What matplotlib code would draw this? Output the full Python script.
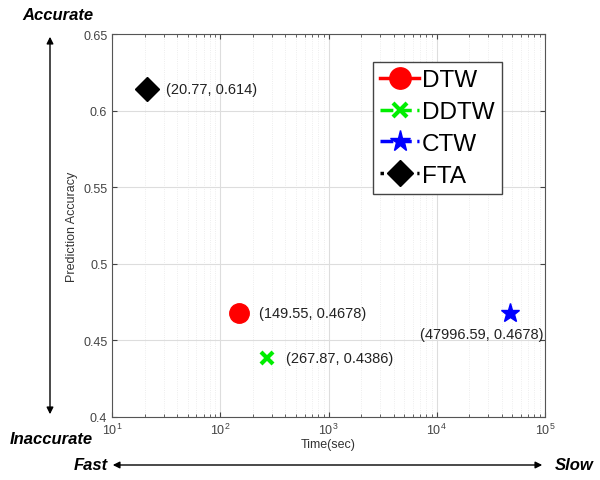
import numpy as np
import matplotlib.pyplot as plt
from matplotlib.patches import FancyArrowPatch

plt.rcParams['font.family'] = ['Liberation Sans', 'DejaVu Sans']

# Data
methods = ['DTW', 'DDTW', 'CTW', 'FTA']
times = [149.55, 267.87, 47996.59, 20.77]
accuracy = [0.4678, 0.4386, 0.4678, 0.614]
colors = ['#ff0000', '#00ee00', '#0000ff', '#000000']
markers = ['o', 'x', '*', 'D']
sizes = [14, 9, 14, 12]
linestyles = ['-', '--', '--', ':']
y_ticks = [0.4, 0.45, 0.5, 0.55, 0.6, 0.65]

fig = plt.figure(figsize=(6, 4.81), dpi=100)
ax = fig.add_axes([0.187, 0.131, 0.721, 0.796])

handles = []
for m, t, a, c, mk, s, ls in zip(methods, times, accuracy, colors, markers, sizes, linestyles):
    h, = ax.plot([t], [a], marker=mk, color=c, markersize=s, linestyle=ls,
                 linewidth=2.5, markeredgewidth=3 if mk == 'x' else 1, label=m)
    handles.append(h)

# point labels
for m, t, a in zip(methods, times, accuracy):
    txt = f'({t:.2f}, {a:g})'
    if m == 'CTW':
        ax.annotate(txt, (t, a), xytext=(24, -15), textcoords='offset points',
                    fontsize=10.5, color='#222222', va='center', ha='right')
    else:
        ax.annotate(txt, (t, a), xytext=(14, 0), textcoords='offset points',
                    fontsize=10.5, color='#222222', va='center')

ax.set_xscale('log')
ax.set_xlim(10, 1e5)
ax.set_ylim(0.4, 0.65)
ax.set_yticks(y_ticks)
ax.set_yticklabels([f'{v:g}' for v in y_ticks])
ax.grid(True, which='major', color='#dddddd', linewidth=0.8)
ax.grid(True, which='minor', axis='x', color='#e8e8e8', linewidth=0.6, linestyle=':')
ax.tick_params(which='both', direction='in', top=True, right=True, labelsize=9, colors='#444444')
for sp in ax.spines.values():
    sp.set_color('#555555')
ax.set_xlabel('Time(sec)', fontsize=9, color='#333333', labelpad=1)
ax.set_ylabel('Prediction Accuracy', fontsize=9, color='#333333', labelpad=4)

leg = ax.legend(handles=handles, loc='upper left', bbox_to_anchor=(0.603, 0.927),
                fontsize=17.5, handlelength=1.6, handletextpad=0.1, labelspacing=0.4,
                borderpad=0.3, borderaxespad=0, fancybox=False, edgecolor='#444444',
                framealpha=1, markerscale=1.1)

# direction arrows and labels
fig.patches.append(FancyArrowPatch(
    (50 / 600, 1 - 418 / 481), (50 / 600, 1 - 35 / 481), transform=fig.transFigure,
    arrowstyle='<|-|>', mutation_scale=10, color='black', linewidth=1))
fig.patches.append(FancyArrowPatch(
    (110 / 600, 1 - 466 / 481), (545 / 600, 1 - 466 / 481), transform=fig.transFigure,
    arrowstyle='<|-|>', mutation_scale=10, color='black', linewidth=1))
fig.text(22 / 600, 1 - 15 / 481, 'Accurate', fontsize=12, fontweight='bold', style='italic', va='center')
fig.text(10 / 600, 1 - 440 / 481, 'Inaccurate', fontsize=12, fontweight='bold', style='italic', va='center')
fig.text(108 / 600, 1 - 466 / 481, 'Fast', fontsize=12, fontweight='bold', style='italic', va='center', ha='right')
fig.text(555 / 600, 1 - 466 / 481, 'Slow', fontsize=12, fontweight='bold', style='italic', va='center')

fig.savefig('out.png', dpi=100)
